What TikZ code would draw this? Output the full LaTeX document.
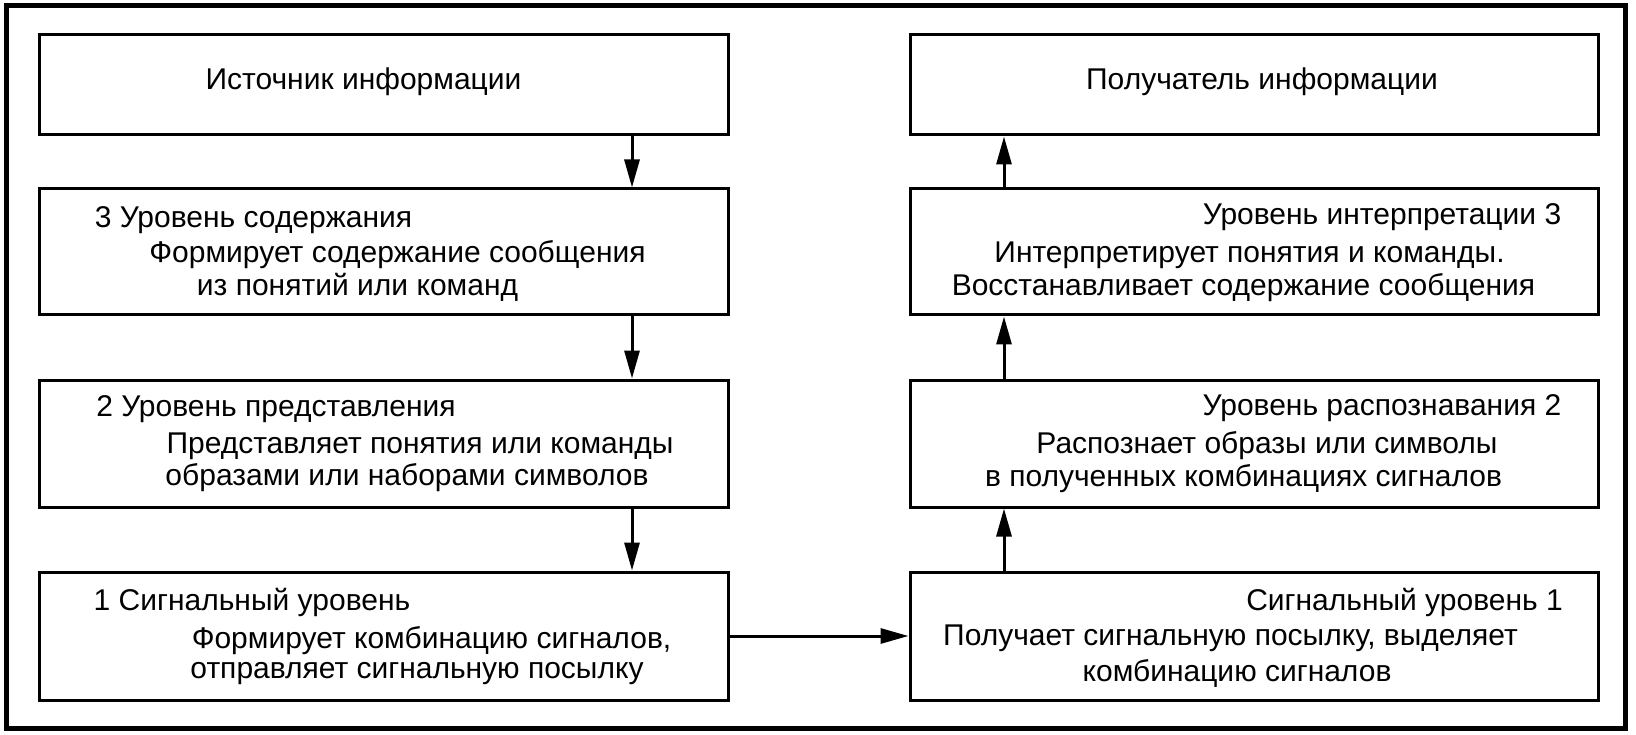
\documentclass[tikz,border=0pt]{standalone}
\usepackage{fontspec}
\setmainfont{Liberation Sans}
\usetikzlibrary{arrows.meta}

\tikzset{
  box/.style={draw, line width=3pt, inner sep=0pt},
  lbox/.style={box, minimum width=689pt},
  rbox/.style={box, minimum width=688pt},
  lbl/.style={inner sep=0pt, text height=16pt, text depth=0pt, font=\fontsize{30}{34}\selectfont},
  arr/.style={line width=3pt, -{Triangle[length=28pt,width=15pt]}},
}

\begin{document}
\begin{tikzpicture}[x=1pt, y=-1pt]
\useasboundingbox (0,0) rectangle (1636,735);
\draw[line width=5pt] (6,6) rectangle (1625,728); % frame

% sender side
\node[lbox, minimum height=100pt] (srcL) at (383.5,85) {};
\node[lbox, minimum height=126pt] (lvl3L) at (383.5,252) {};
\node[lbox, minimum height=127pt] (lvl2L) at (383.5,443.5) {};
\node[lbox, minimum height=128pt] (lvl1L) at (383.5,636) {};

% receiver side
\node[rbox, minimum height=100pt] (srcR) at (1254,85) {};
\node[rbox, minimum height=126pt] (lvl3R) at (1254,252) {};
\node[rbox, minimum height=127pt] (lvl2R) at (1254,443.5) {};
\node[rbox, minimum height=128pt] (lvl1R) at (1254,636) {};

% texts, left
\node[lbl] (tsrcL) at (363.5,82) {Источник информации};
\node[lbl] (t3aL) at (253.5,220) {3 Уровень содержания};
\node[lbl] (t3bL) at (397.5,255) {Формирует содержание сообщения};
\node[lbl] (t3cL) at (357.5,288) {из понятий или команд};
\node[lbl] (t2aL) at (276,408) {2 Уровень представления};
\node[lbl] (t2bL) at (420,445) {Представляет понятия или команды};
\node[lbl] (t2cL) at (407,477) {образами или наборами символов};
\node[lbl] (t1aL) at (252,602) {1 Сигнальный уровень};
\node[lbl] (t1bL) at (431.5,640) {Формирует комбинацию сигналов,};
\node[lbl] (t1cL) at (417,670) {отправляет сигнальную посылку};

% texts, right
\node[lbl] (tsrcR) at (1262,82) {Получатель информации};
\node[lbl] (t3aR) at (1382,217) {Уровень интерпретации 3};
\node[lbl] (t3bR) at (1249.5,255) {Интерпретирует понятия и команды.};
\node[lbl] (t3cR) at (1243.5,288) {Восстанавливает содержание сообщения};
\node[lbl] (t2aR) at (1382,407) {Уровень распознавания 2};
\node[lbl] (t2bR) at (1267,445) {Распознает образы или символы};
\node[lbl] (t2cR) at (1243.5,478) {в полученных комбинациях сигналов};
\node[lbl] (t1aR) at (1404.5,602) {Сигнальный уровень 1};
\node[lbl] (t1bR) at (1230.5,637) {Получает сигнальную посылку, выделяет};
\node[lbl] (t1cR) at (1237,673) {комбинацию сигналов};

% arrows
\draw[arr] ([xshift=248.5pt]srcL.south) -- ([xshift=248.5pt]lvl3L.north);
\draw[arr] ([xshift=248.5pt]lvl3L.south) -- ([xshift=248.5pt]lvl2L.north);
\draw[arr] ([xshift=248.5pt]lvl2L.south) -- ([xshift=248.5pt]lvl1L.north);
\draw[arr] (lvl1L.east) -- (lvl1R.west);
\draw[arr] ([xshift=-250pt]lvl1R.north) -- ([xshift=-250pt]lvl2R.south);
\draw[arr] ([xshift=-250pt]lvl2R.north) -- ([xshift=-250pt]lvl3R.south);
\draw[arr] ([xshift=-250pt]lvl3R.north) -- ([xshift=-250pt]srcR.south);

\end{tikzpicture}
\end{document}
